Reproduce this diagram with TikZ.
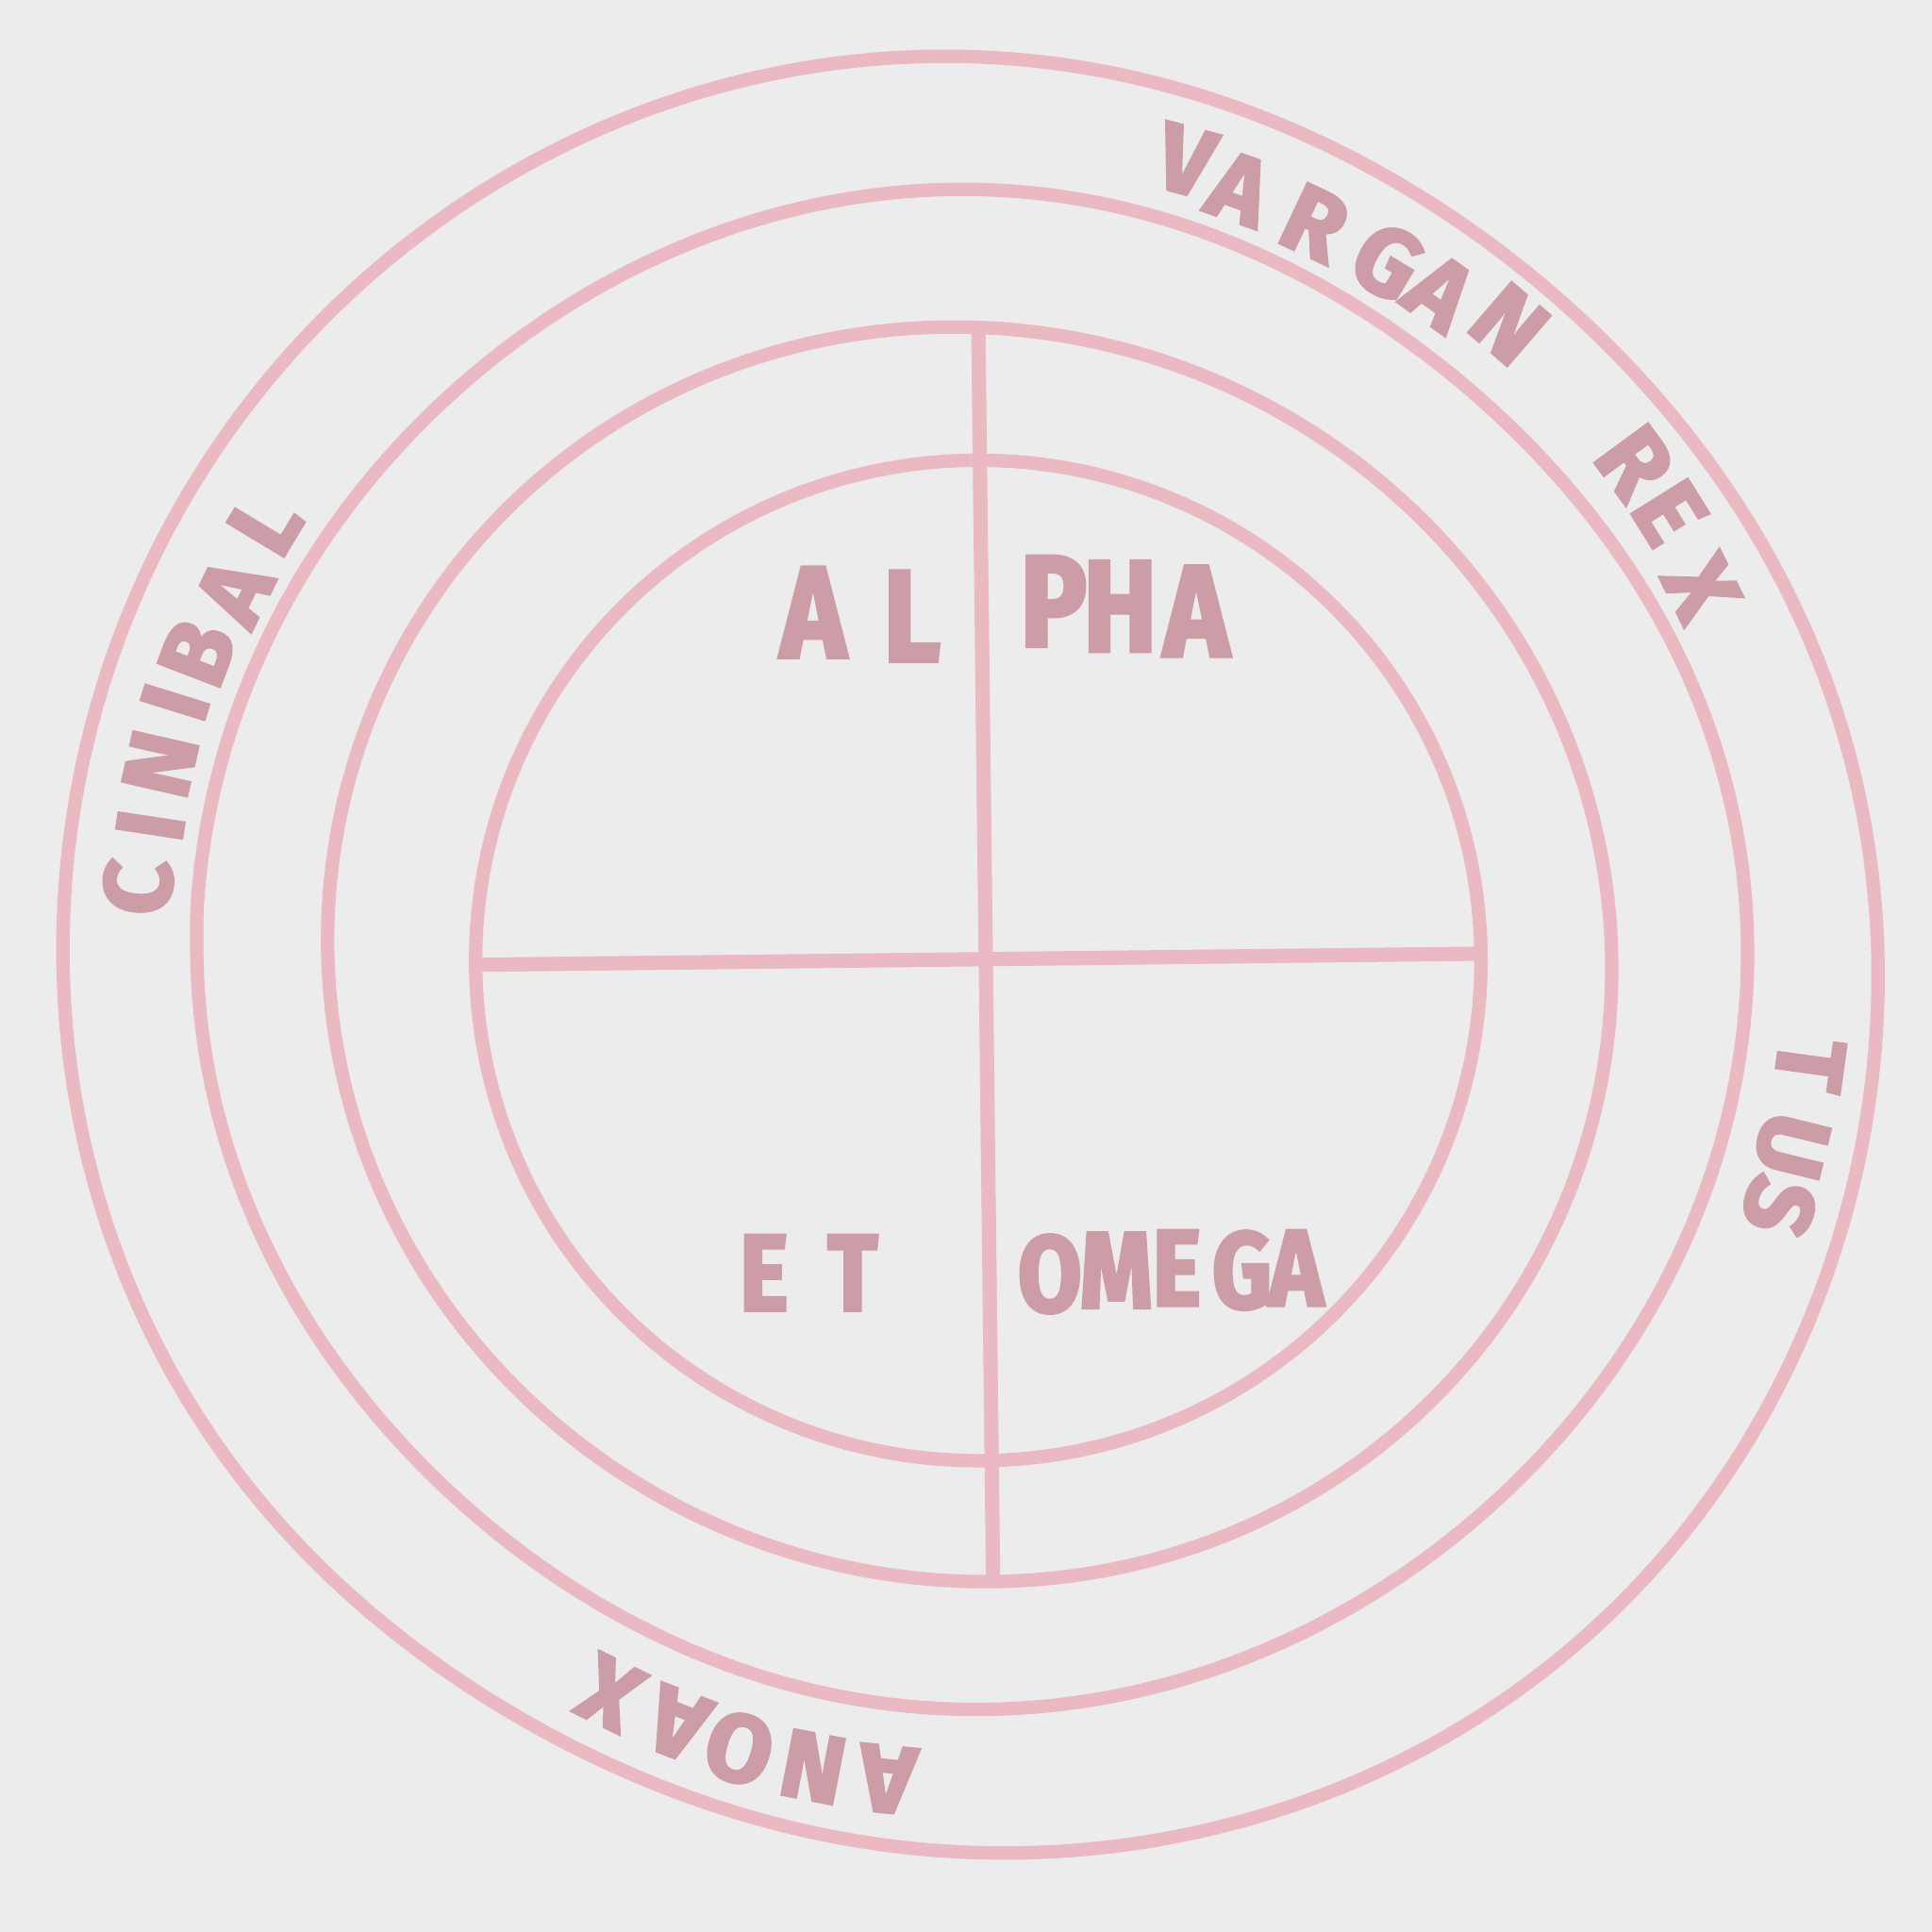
\documentclass[tikz,border=0pt]{standalone}
\usepackage{fontspec}
\newfontfamily\hand{Fira Sans}[FakeBold=3]
\newfontfamily\handn{Fira Sans}[FakeStretch=0.85, FakeBold=3]
\definecolor{bgc}{RGB}{236,236,236}
\definecolor{ringc}{RGB}{234,185,196}
\definecolor{textc}{RGB}{204,156,167}
\tikzset{
  ring/.style={draw=ringc, line width=3.1pt, line join=round},
  crossl/.style={draw=ringc, line width=3.3pt, line cap=round},
  outl/.style={text=textc, font=\hand\bfseries\fontsize{22}{22}\selectfont, inner sep=0pt},
  inl/.style={text=textc, font=\handn\bfseries\fontsize{30}{30}\selectfont, inner sep=0pt},
  inls/.style={text=textc, font=\handn\bfseries\fontsize{25}{25}\selectfont, inner sep=0pt}
}
\begin{document}
\begin{tikzpicture}[x=0.01cm, y=-0.01cm,
  declare function={
    gs(\t,\c,\w)=exp(-min(((\t-\c)/\w)*((\t-\c)/\w),15));
    rA(\t)=734+3*cos(2*\t)-22*gs(\t,50,35)+14*gs(\t,-50,35)-10*gs(\t,-120,25);
    rB(\t)=621+6*cos(2*\t)+3*cos(4*\t)-10*gs(\t,50,30)-6*gs(\t,-135,30);
    rC(\t)=515+6*cos(2*\t)-6*sin(2*\t);
    rD(\t)=407+1*cos(2*\t);
  }]
\useasboundingbox (0,0) rectangle (1568,1568);
\fill[bgc] (0,0) rectangle (1568,1568);

% four rings
\draw[ring] plot[domain=-180:177, samples=120, smooth cycle]
  ({788+rA(\x)*cos(\x)}, {771-rA(\x)*sin(\x)});
\draw[ring] plot[domain=-180:177, samples=120, smooth cycle]
  ({789+rB(\x)*cos(\x)}, {770-rB(\x)*sin(\x)});
\draw[ring] plot[domain=-180:177, samples=120, smooth cycle]
  ({787+rC(\x)*cos(\x)}, {774.5-rC(\x)*sin(\x)});
\draw[ring] plot[domain=-180:177, samples=120, smooth cycle]
  ({794+rD(\x)*cos(\x)}, {779.5-rD(\x)*sin(\x)});

% cross
\coordinate (vt) at (794,266);
\coordinate (vb) at (806,1283);
\coordinate (hl) at (388,783);
\coordinate (hr) at (1201,774);
\draw[crossl] (vt) -- (vb);
\draw[crossl] (hl) -- (hr);

% outer ring lettering (tops outward, clockwise)
\foreach \ch/\x/\y/\a [count=\i] in {V/962/130/74.9, A/1006/153/70.7, R/1067/181/64.7,
  G/1126/212/58.9, A/1169/237/54.5, N/1225/263/49.3, R/1327/375/36.3, E/1355/416/32.0, X/1381/477/26.3}
  \node[outl, rotate=\a-90] (vr\i) at (\x,\y) {\ch};
\foreach \ch/\x/\y/\a [count=\i] in {C/112/720/175.7, I/122/670/171.4, N/130/620/167.1,
  I/142/570/162.7, B/160/530/159.0, A/190/480/154.1, L/215/425/148.9}
  \node[outl, rotate=\a-90] (ci\i) at (\x,\y) {\ch};
\foreach \ch/\x/\y/\a [count=\i] in {T/1469/864/-7.8, U/1454/930/-13.8, S/1444/979/-17.6}
  \node[outl, rotate=\a-90] (tu\i) at (\x,\y) {\ch};
\foreach \ch/\x/\y/\a [count=\i] in {A/720/1444/-95.9, N/660/1434/-101.0, O/600/1419/-106.3,
  A/550/1399/-110.8, X/495/1374/-116.0}
  \node[outl, rotate=\a-90] (an\i) at (\x,\y) {\ch};

% inner lettering
\foreach \ch/\x/\y [count=\i] in {A/660/497, L/740/500, P/855/488, H/909/492, A/971/496}
  \node[inl] (al\i) at (\x,\y) {\ch};
\foreach \ch/\x/\y [count=\i] in {E/620/1033, T/692/1033}
  \node[inls] (et\i) at (\x,\y) {\ch};
\foreach \ch/\x/\y [count=\i] in {O/852/1034, M/906/1031, E/955/1029, G/1008/1031, A/1052/1029}
  \node[inls] (om\i) at (\x,\y) {\ch};
\end{tikzpicture}
\end{document}
